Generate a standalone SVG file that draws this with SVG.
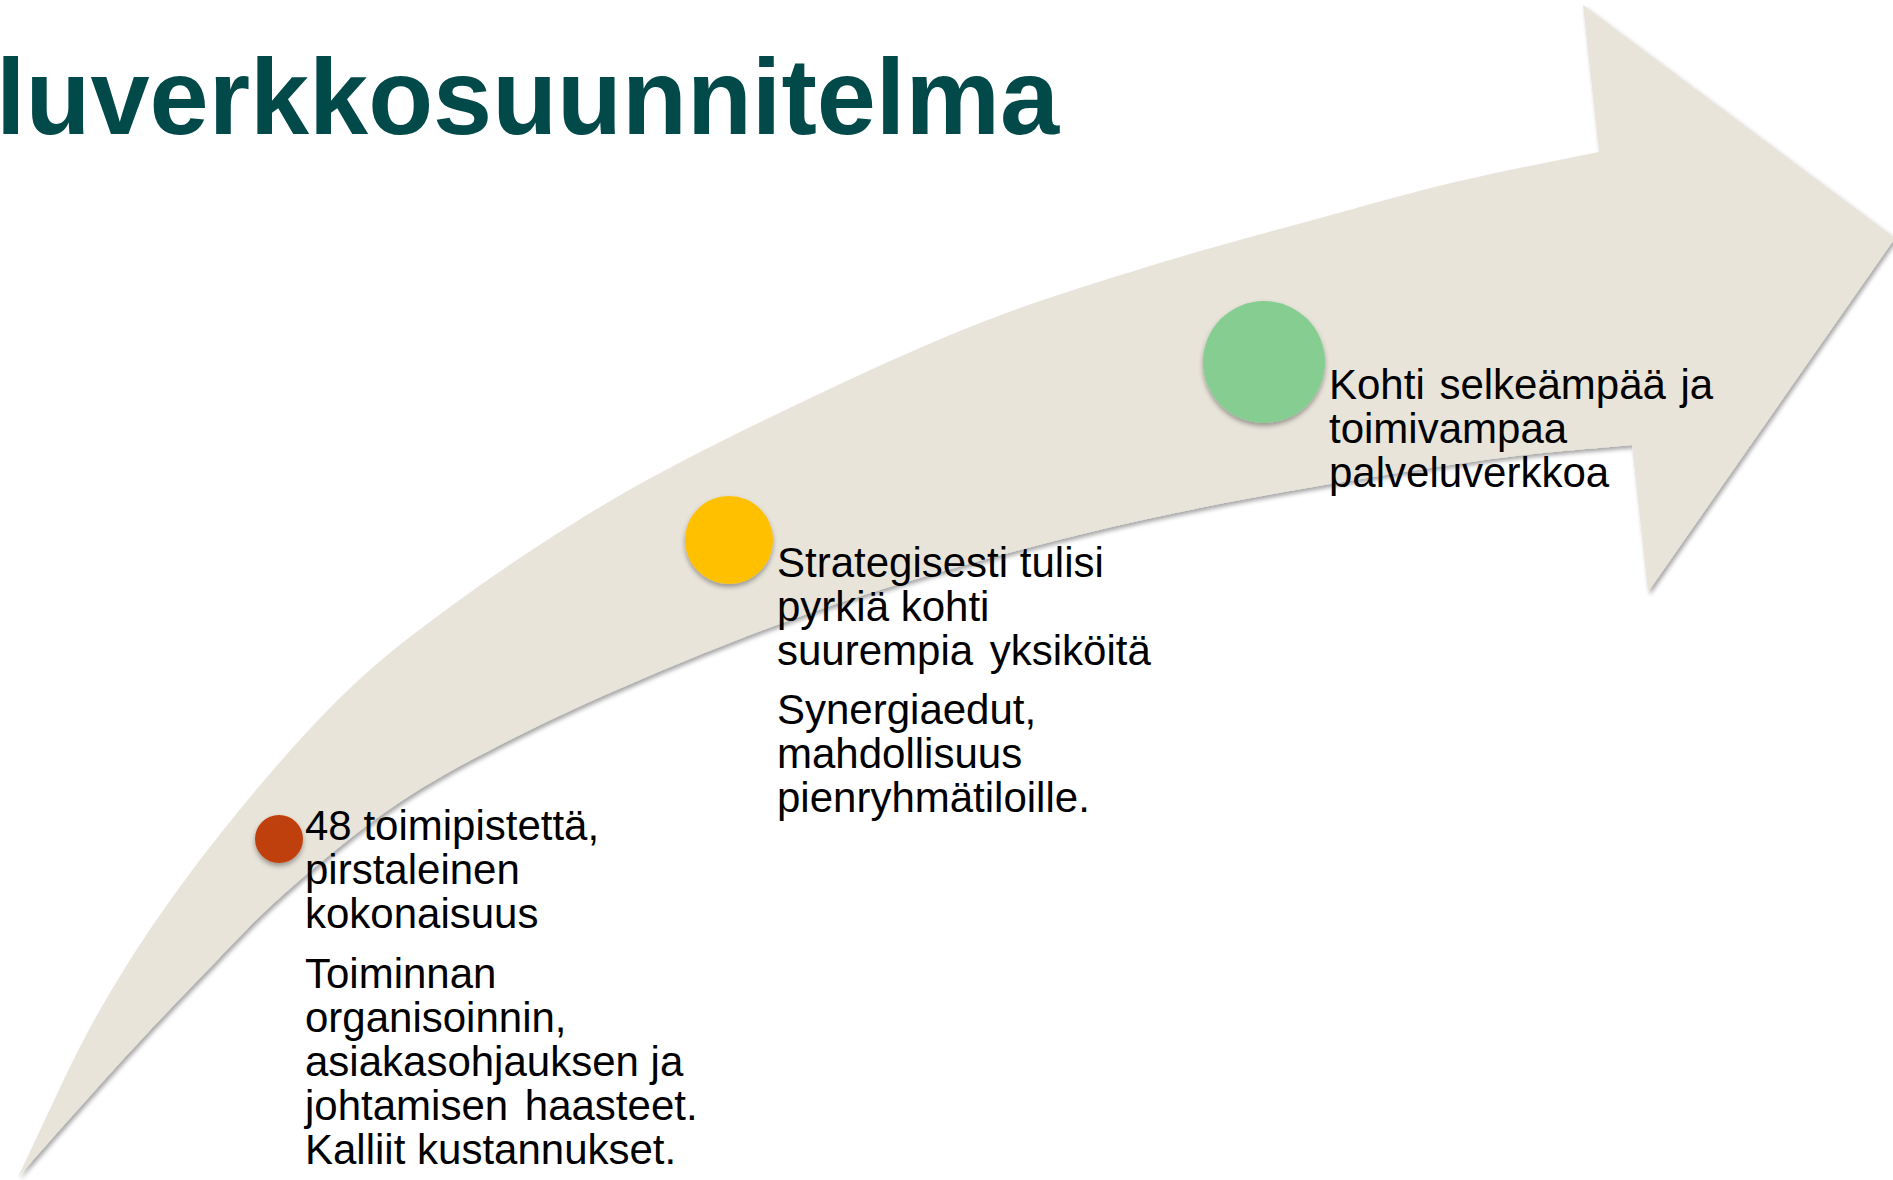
<svg xmlns="http://www.w3.org/2000/svg" width="1893" height="1180" viewBox="0 0 1893 1180">
  <style>
    .title { font-family: "Liberation Sans", Arial, sans-serif; font-weight: bold; font-size: 107px; fill: #02494A; }
    .body { font-family: "Liberation Sans", Arial, sans-serif; font-size: 42px; fill: #000000; }
    .arrow { fill: #E8E4DA; }
  </style>
  <defs>
    <filter id="shadow" x="-10%" y="-10%" width="120%" height="120%">
      <feDropShadow dx="2" dy="3" stdDeviation="2" flood-color="#000000" flood-opacity="0.35"/>
    </filter>
    <filter id="dotshadow" x="-30%" y="-30%" width="160%" height="160%">
      <feDropShadow dx="0" dy="3" stdDeviation="2.5" flood-color="#000000" flood-opacity="0.35"/>
    </filter>
  </defs>

  <g id="title">
    <text class="title" x="-4" y="134" textLength="1063" lengthAdjust="spacingAndGlyphs">luverkkosuunnitelma</text>
  </g>

  <g id="connectors">
    <path id="arrow" class="arrow" filter="url(#shadow)" d="M18,1177 C45.3,1121.3 69.7,1062.8 100,1010 C130.3,957.2 161.7,910.3 200,860 C238.3,809.7 288.3,750.2 330,708 C371.7,665.8 402.2,642.2 450,607 C497.8,571.8 558.7,531 617,497 C675.3,463 739.5,432 800,403 C860.5,374 922.2,345.7 980,323 C1037.8,300.3 1091.5,284.2 1147,267 C1202.5,249.8 1260.8,234.3 1313,220 C1365.2,205.7 1412.3,192.3 1460,181 C1507.7,169.7 1552.7,161.7 1599,152 L1583,5 L1895,238 L1648,592 L1632,445 C1588,449.3 1553.2,451 1500,458 C1446.8,465 1371.8,476.8 1313,487 C1254.2,497.2 1200.8,507.2 1147,519 C1093.2,530.8 1042.8,543.5 990,558 C937.2,572.5 881.7,588.5 830,606 C778.3,623.5 730,642.3 680,663 C630,683.7 576.7,706.8 530,730 C483.3,753.2 440.8,774.8 400,802 C359.2,829.2 318.3,863.7 285,893 C251.7,922.3 228,949.2 200,978 C172,1006.8 147.3,1032.8 117,1066 C86.7,1099.2 51,1140 18,1177 Z"/>
  </g>

  <g id="node-1">
    <circle cx="279" cy="839" r="24" fill="#C0400C" filter="url(#dotshadow)"/>
    <text class="body" x="305" y="840">48 toimipistettä,</text>
    <text class="body" x="305" y="884">pirstaleinen</text>
    <text class="body" x="305" y="928">kokonaisuus</text>
    <text class="body" x="305" y="988">Toiminnan</text>
    <text class="body" x="305" y="1032">organisoinnin,</text>
    <text class="body" x="305" y="1076">asiakasohjauksen ja</text>
    <text class="body" x="305" y="1120" word-spacing="5">johtamisen haasteet.</text>
    <text class="body" x="305" y="1164">Kalliit kustannukset.</text>
  </g>

  <g id="node-2">
    <circle cx="729" cy="540" r="44" fill="#FFC000" filter="url(#dotshadow)"/>
    <text class="body" x="777" y="577">Strategisesti tulisi</text>
    <text class="body" x="777" y="621">pyrkiä kohti</text>
    <text class="body" x="777" y="665" word-spacing="5">suurempia yksiköitä</text>
    <text class="body" x="777" y="724">Synergiaedut,</text>
    <text class="body" x="777" y="768">mahdollisuus</text>
    <text class="body" x="777" y="812">pienryhmätiloille.</text>
  </g>

  <g id="node-3">
    <circle cx="1264" cy="362" r="61" fill="#86CD92" filter="url(#dotshadow)"/>
    <text class="body" x="1329" y="399" word-spacing="3">Kohti selkeämpää ja</text>
    <text class="body" x="1329" y="443">toimivampaa</text>
    <text class="body" x="1329" y="487">palveluverkkoa</text>
  </g>
</svg>
